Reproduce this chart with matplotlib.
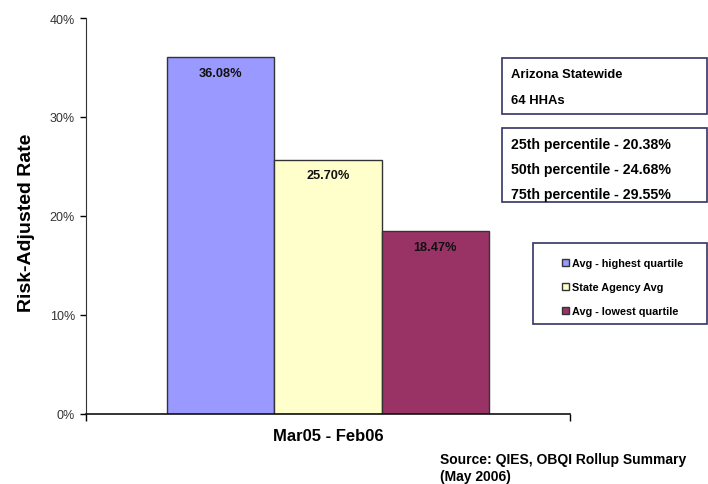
import matplotlib
matplotlib.use("Agg")
import matplotlib.pyplot as plt
from matplotlib.patches import Rectangle
from matplotlib.ticker import PercentFormatter

plt.rcParams['font.family'] = ['Liberation Sans', 'DejaVu Sans']

series = ["Avg - highest quartile", "State Agency Avg", "Avg - lowest quartile"]
values = [36.08, 25.70, 18.47]
colors = ["#9999FF", "#FFFFCC", "#993366"]
category = "Mar05 - Feb06"
yticks = [0, 10, 20, 30, 40]
info_lines = ["Arizona Statewide", "64 HHAs"]
pct_lines = ["25th percentile - 20.38%", "50th percentile - 24.68%", "75th percentile - 29.55%"]

fig = plt.figure(figsize=(7.08, 4.85), dpi=100)
ax = fig.add_axes([86/708, 1-415/485, (570-86)/708, (415-19)/485])

bw = 0.222
offsets = [-bw, 0, bw]
for s, v, c, o in zip(series, values, colors, offsets):
    ax.bar(o, v, width=bw, color=c, edgecolor="#333333", linewidth=1.0, label=s)
    ax.text(o, v - 1.6, f"{v:.2f}%", ha="center", va="center", fontsize=9.2,
            fontweight="bold", color="#111111")

ax.set_xlim(-0.5, 0.5)
ax.set_ylim(0, 40)
ax.set_yticks(yticks)
ax.yaxis.set_major_formatter(PercentFormatter(decimals=0))
ax.set_xticks([-0.5, 0.5])
ax.set_xticklabels(["", ""])
ax.tick_params(axis="x", length=5, direction="out", width=1)
ax.tick_params(axis="y", length=4, direction="out", width=1, labelsize=9, labelcolor="#333333", pad=4)
for sp in ["top", "right"]:
    ax.spines[sp].set_visible(False)
ax.spines["left"].set_color("#333333")
ax.spines["bottom"].set_color("#111111")
ax.spines["bottom"].set_linewidth(1.2)
ax.set_ylabel("Risk-Adjusted Rate", fontsize=14, fontweight="bold")
ax.yaxis.set_label_coords(-0.106, 0.485)
fig.text(328/708, 1-437/485, category, ha="center", va="center", fontsize=12, fontweight="bold")

def fig_box(x0, y0, x1, y1):
    fig.add_artist(Rectangle((x0/708, 1-y1/485), (x1-x0)/708, (y1-y0)/485,
                             transform=fig.transFigure, fill=False,
                             edgecolor="#333366", linewidth=1.2, clip_on=False))

fig_box(502, 59, 707, 115)
fig.text(511/708, 1-75/485, info_lines[0], ha="left", va="center", fontsize=9.4, fontweight="bold")
fig.text(511/708, 1-101/485, info_lines[1], ha="left", va="center", fontsize=9.4, fontweight="bold")

fig_box(502, 129, 707, 203)
for i, t in enumerate(pct_lines):
    fig.text(511/708, 1-(145 + 25*i)/485, t, ha="left", va="center", fontsize=10.2, fontweight="bold")

fig_box(533, 244, 707, 325)
handles, labels = ax.get_legend_handles_labels()
leg = fig.legend(handles, labels, loc="center left", bbox_to_anchor=(558/708, 1-288/485),
                 frameon=False, fontsize=7.8, handlelength=0.6, handleheight=0.6,
                 handletextpad=0.3, labelspacing=1.3, borderaxespad=0)
for t in leg.get_texts():
    t.set_fontweight("bold")

fig.text(440/708, 1-460/485, "Source: QIES, OBQI Rollup Summary", ha="left", va="center",
         fontsize=10, fontweight="bold")
fig.text(440/708, 1-477/485, "(May 2006)", ha="left", va="center", fontsize=10, fontweight="bold")

fig.savefig("out.png", dpi=100)
